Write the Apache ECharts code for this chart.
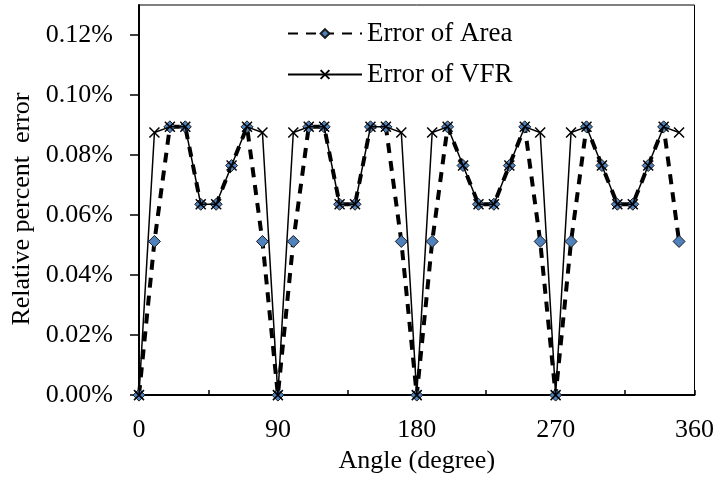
<!DOCTYPE html>
<html>
<head>
<meta charset="utf-8">
<script src="https://cdn.jsdelivr.net/npm/echarts@6/dist/echarts.min.js"></script>
<style>
  html, body { margin: 0; padding: 0; background: #fff; }
  #chart { width: 717px; height: 479px; }
</style>
</head>
<body>
<div id="chart"></div>
<script>
// angle in degrees, error values in percent
const angles = [0, 10, 20, 30, 40, 50, 60, 70, 80, 90, 100, 110, 120, 130, 140, 150, 160, 170,
  180, 190, 200, 210, 220, 230, 240, 250, 260, 270, 280, 290, 300, 310, 320, 330, 340, 350];
const errArea = [0, 0.0512, 0.0894, 0.0894, 0.0636, 0.0636, 0.0765, 0.0894, 0.0512,
  0, 0.0512, 0.0894, 0.0894, 0.0636, 0.0636, 0.0894, 0.0894, 0.0512,
  0, 0.0512, 0.0894, 0.0765, 0.0636, 0.0636, 0.0765, 0.0894, 0.0512,
  0, 0.0512, 0.0894, 0.0765, 0.0636, 0.0636, 0.0765, 0.0894, 0.0512];
const errVFR = [0, 0.0875, 0.0894, 0.0894, 0.0636, 0.0636, 0.0765, 0.0894, 0.0875,
  0, 0.0875, 0.0894, 0.0894, 0.0636, 0.0636, 0.0894, 0.0894, 0.0875,
  0, 0.0875, 0.0894, 0.0765, 0.0636, 0.0636, 0.0765, 0.0894, 0.0875,
  0, 0.0875, 0.0894, 0.0765, 0.0636, 0.0636, 0.0765, 0.0894, 0.0875];
const xLabels = [0, 90, 180, 270, 360];

const font = '"Liberation Serif", "Times New Roman", serif';
const chart = echarts.init(document.getElementById('chart'));

chart.setOption({
  backgroundColor: '#fff',
  animation: false,
  textStyle: { fontFamily: font, color: '#000' },
  grid: {
    left: 139, right: 20, top: 5, bottom: 81,
    show: true, borderColor: '#000', borderWidth: 1
  },
  legend: {
    orient: 'vertical',
    left: 282, top: 15,
    itemWidth: 74, itemHeight: 11, itemGap: 14,
    textStyle: { fontFamily: font, fontSize: 27, color: '#000' },
    data: ['Error of Area', 'Error of VFR']
  },
  xAxis: {
    type: 'value',
    min: 0, max: 360, interval: 45,
    name: 'Angle (degree)',
    nameLocation: 'middle',
    nameGap: 42,
    nameTextStyle: { fontFamily: font, fontSize: 26, color: '#000' },
    axisLine: { lineStyle: { color: '#000', width: 2 } },
    axisTick: { inside: true, length: 5, lineStyle: { color: '#000', width: 1.5 } },
    splitLine: { show: false },
    axisLabel: {
      fontFamily: font, fontSize: 26, color: '#000', margin: 22,
      formatter: v => (xLabels.indexOf(v) >= 0 ? String(v) : '')
    }
  },
  yAxis: {
    type: 'value',
    min: 0, max: 0.13, interval: 0.02,
    name: 'Relative percent  error',
    nameLocation: 'middle',
    nameGap: 100,
    nameTextStyle: { fontFamily: font, fontSize: 26, color: '#000', padding: [0, 18, 0, 0] },
    axisLine: { lineStyle: { color: '#000', width: 2 } },
    axisTick: { inside: false, length: 9, lineStyle: { color: '#000', width: 1.5 } },
    splitLine: { show: false },
    axisLabel: {
      fontFamily: font, fontSize: 26, color: '#000', margin: 26,
      showMaxLabel: false,
      formatter: v => v.toFixed(2) + '%'
    }
  },
  series: [
    {
      name: 'Error of Area',
      type: 'line',
      data: angles.map((a, i) => [a, errArea[i]]),
      symbol: 'diamond',
      symbolSize: 12,
      lineStyle: { color: '#000', width: 4, type: [10, 8] },
      itemStyle: { color: '#4f81bd', borderColor: '#1a1a1a', borderWidth: 1 },
      z: 2
    },
    {
      name: 'Error of VFR',
      type: 'line',
      data: angles.map((a, i) => [a, errVFR[i]]),
      symbol: 'path://M0,0L10,10M10,0L0,10',
      symbolSize: 10,
      lineStyle: { color: '#000', width: 1.5 },
      itemStyle: { color: 'none', borderColor: '#000', borderWidth: 1.5 },
      z: 3
    }
  ]
});
</script>
</body>
</html>
